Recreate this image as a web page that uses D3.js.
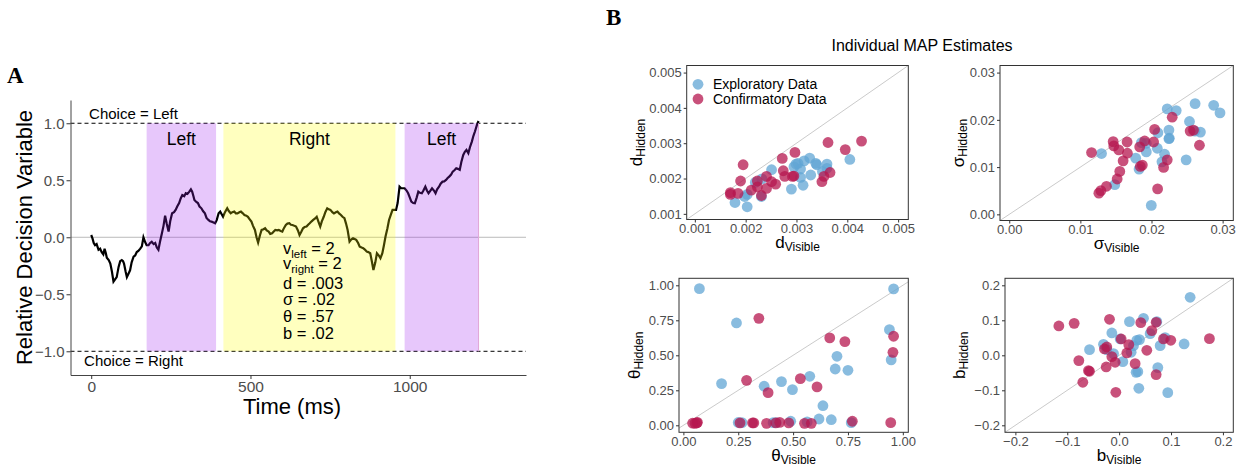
<!DOCTYPE html>
<html>
<head>
<meta charset="utf-8">
<script src="https://cdn.jsdelivr.net/npm/d3@7"></script>
<style>
  body { margin: 0; background: #fff; }
  svg { font-family: "Liberation Sans", Arial, sans-serif; }
</style>
</head>
<body>
<div class="wrapper"></div>
<script>
width = 1244;
height = 467;

/* ---------- Data: panel A (one simulated trial) ---------- */
traceTime = [0, 4, 8, 12, 17, 23, 28, 33, 38, 42, 46, 49, 55, 60, 65, 70, 75, 80, 86, 91,
  96, 100, 103, 108, 112, 117, 122, 127, 133, 138, 143, 148, 154, 159, 164, 169, 174, 180, 185, 190,
  196, 201, 206, 211, 216, 222, 227, 232, 237, 243, 248, 254, 260, 265, 270, 276, 281, 286, 292, 297,
  302, 308, 313, 317, 321, 324, 330, 335, 340, 346, 351, 357, 362, 368, 373, 378, 384, 389, 394, 400,
  405, 410, 414, 420, 427, 432, 438, 443, 449, 454, 459, 465, 470, 476, 481, 487, 492, 497, 503, 508,
  514, 519, 524, 530, 535, 541, 546, 551, 557, 562, 568, 573, 578, 584, 589, 595, 600, 605, 611, 616,
  622, 627, 632, 638, 643, 649, 654, 660, 665, 670, 676, 681, 686, 692, 697, 703, 708, 713, 719, 724,
  730, 735, 741, 746, 751, 757, 762, 768, 773, 778, 784, 789, 795, 800, 805, 811, 816, 822, 827, 832,
  838, 843, 849, 854, 860, 865, 870, 876, 881, 886, 892, 897, 903, 908, 914, 919, 924, 930, 935, 941,
  946, 951, 957, 962, 968, 973, 979, 984, 990, 995, 1000, 1005, 1011, 1016, 1022, 1027, 1032, 1038, 1043, 1049,
  1054, 1059, 1065, 1070, 1076, 1081, 1086, 1092, 1097, 1103, 1108, 1114, 1119, 1124, 1130, 1135, 1141, 1146, 1151, 1157,
  1162, 1168, 1173, 1178, 1184, 1189, 1195, 1200, 1205, 1211, 1216];
traceValue = [0.02, -0.01, -0.05, -0.07, -0.06, -0.11, -0.10, -0.13, -0.15, -0.10, -0.14, -0.18, -0.20, -0.23, -0.30, -0.39, -0.37, -0.35, -0.26, -0.21,
  -0.20, -0.21, -0.23, -0.30, -0.35, -0.32, -0.29, -0.22, -0.17, -0.16, -0.13, -0.12, -0.10, -0.08, 0.00, -0.04, -0.07, -0.07, -0.05, -0.04,
  -0.06, -0.05, -0.09, -0.11, -0.04, 0.035, 0.10, 0.19, 0.12, 0.05, 0.14, 0.21, 0.22, 0.24, 0.27, 0.30, 0.34, 0.37, 0.36, 0.386,
  0.38, 0.40, 0.42, 0.40, 0.36, 0.327, 0.31, 0.30, 0.27, 0.254, 0.23, 0.21, 0.17, 0.152, 0.14, 0.137, 0.13, 0.123, 0.15, 0.21,
  0.225, 0.20, 0.18, 0.22, 0.254, 0.23, 0.21, 0.22, 0.225, 0.21, 0.21, 0.22, 0.225, 0.21, 0.196, 0.19, 0.18, 0.16, 0.137, 0.10,
  0.064, 0.00, -0.047, 0.02, 0.064, 0.07, 0.079, 0.06, 0.05, 0.03, 0.035, 0.05, 0.064, 0.06, 0.064, 0.055, 0.05, 0.08, 0.108, 0.12,
  0.123, 0.11, 0.108, 0.10, 0.094, 0.06, 0.02, 0.05, 0.079, 0.09, 0.094, 0.11, 0.123, 0.14, 0.152, 0.165, 0.18, 0.14, 0.094, 0.14,
  0.18, 0.22, 0.254, 0.245, 0.24, 0.22, 0.21, 0.22, 0.225, 0.21, 0.196, 0.18, 0.167, 0.12, 0.064, -0.038, -0.02, -0.009, -0.015, -0.023,
  -0.05, -0.082, -0.09, -0.096, -0.11, -0.126, -0.13, -0.14, -0.21, -0.287, -0.22, -0.14, -0.16, -0.184, -0.14, -0.07, 0.006, 0.08, 0.152, 0.20,
  0.24, 0.24, 0.24, 0.30, 0.444, 0.43, 0.43, 0.43, 0.41, 0.386, 0.35, 0.313, 0.30, 0.298, 0.35, 0.40, 0.39, 0.386, 0.41, 0.444,
  0.41, 0.386, 0.41, 0.43, 0.41, 0.386, 0.42, 0.444, 0.47, 0.488, 0.49, 0.503, 0.52, 0.532, 0.55, 0.576, 0.59, 0.605, 0.60, 0.591,
  0.66, 0.722, 0.75, 0.766, 0.737, 0.79, 0.839, 0.89, 0.93, 0.985, 1.02];

fixStart = [174, 415, 984];
fixEnd = [392, 955, 1216];
fixSide = ["Left", "Right", "Left"];

xTicksA = [0, 500, 1000];
yTicksA = [-1, -0.5, 0, 0.5, 1];

paramSymbols = ["v", "v", "d", "\u03c3", "\u03b8", "b"];
paramSubs = ["left", "right", "", "", "", ""];
paramValues = ["2", "2", ".003", ".02", ".57", ".02"];

/* ---------- Data: panel B (visible, hidden) ---------- */
dExploratory = [[0.00179, 0.00132], [0.00203, 0.0012], [0.00198, 0.00149], [0.00203, 0.00155], [0.00219, 0.00189],
  [0.00232, 0.00199], [0.00251, 0.00225], [0.00231, 0.00149], [0.0029, 0.0017], [0.00295, 0.00233], [0.00303, 0.00243],
  [0.00308, 0.00203], [0.00313, 0.00181], [0.00308, 0.00227], [0.00315, 0.0025], [0.00326, 0.00258], [0.00328, 0.0021],
  [0.00338, 0.00243], [0.0034, 0.00239], [0.00351, 0.0022], [0.0036, 0.00241], [0.0036, 0.00229], [0.00405, 0.00254],
  [0.00299, 0.00241]];
dConfirmatory = [[0.0017, 0.0016], [0.0017, 0.00155], [0.00185, 0.00158], [0.0019, 0.00193], [0.00195, 0.00239],
  [0.00211, 0.00167], [0.00223, 0.00193], [0.00223, 0.00176], [0.00231, 0.00152], [0.00241, 0.00206], [0.00241, 0.00172],
  [0.00251, 0.00191], [0.00259, 0.00184], [0.00272, 0.00257], [0.00274, 0.00222], [0.00277, 0.00206], [0.00295, 0.00207],
  [0.00297, 0.00274], [0.0035, 0.00191], [0.00354, 0.00206], [0.00362, 0.00302], [0.00366, 0.00217], [0.00396, 0.00282],
  [0.00428, 0.00306], [0.00292, 0.00206]];

sigmaExploratory = [[0.01297, 0.01287], [0.01484, 0.00629], [0.01778, 0.01189], [0.01825, 0.00958], [0.01858, 0.01517],
  [0.01927, 0.01503], [0.01927, 0.01322], [0.0209, 0.01727], [0.02081, 0.01399], [0.01997, 0.00189], [0.02184, 0.01273],
  [0.02147, 0.01112], [0.02221, 0.02231], [0.02245, 0.01783], [0.02245, 0.01601], [0.02347, 0.02196], [0.02487, 0.01154],
  [0.02534, 0.01965], [0.02613, 0.02343], [0.02688, 0.01741], [0.02874, 0.02308], [0.02963, 0.02147], [0.0225, 0.0161],
  [0.0261, 0.0176]];
sigmaConfirmatory = [[0.01157, 0.01308], [0.0126, 0.00448], [0.01288, 0.00503], [0.01367, 0.00594], [0.01461, 0.01538],
  [0.0147, 0.01448], [0.0154, 0.01364], [0.01517, 0.00748], [0.01554, 0.00909], [0.01601, 0.01133], [0.01657, 0.01531],
  [0.01661, 0.01294], [0.01834, 0.01427], [0.01843, 0.01014], [0.01871, 0.01042], [0.01904, 0.01552], [0.0203, 0.01531],
  [0.02044, 0.01797], [0.02086, 0.00538], [0.0217, 0.00993], [0.02221, 0.01154], [0.02291, 0.02056], [0.02543, 0.01762],
  [0.0259, 0.01783], [0.02674, 0.01462]];

thetaExploratory = [[0.073, 0.976], [0.242, 0.731], [0.174, 0.298], [0.368, 0.279], [0.447, 0.312], [0.497, 0.255],
  [0.576, 0.35], [0.636, 0.14], [0.618, 0.045], [0.674, 0.04], [0.692, 0.402], [0.7, 0.493], [0.75, 0.393], [0.765, 0.019],
  [0.939, 0.683], [0.947, 0.467], [0.958, 0.974], [0.267, 0.019], [0.409, 0.019], [0.423, 0.019], [0.489, 0.029],
  [0.564, 0.024], [0.25, 0.02]];
thetaConfirmatory = [[0.053, 0.014], [0.061, 0.017], [0.064, 0.021], [0.258, 0.017], [0.315, 0.017], [0.321, 0.017],
  [0.288, 0.321], [0.344, 0.764], [0.386, 0.233], [0.379, 0.014], [0.421, 0.017], [0.439, 0.021], [0.48, 0.017],
  [0.533, 0.333], [0.552, 0.014], [0.583, 0.014], [0.609, 0.274], [0.667, 0.624], [0.736, 0.598], [0.77, 0.029],
  [0.945, 0.019], [0.955, 0.521], [0.958, 0.636], [0.042, 0.015]];

bExploratory = [[-0.0571, 0.0162], [-0.0302, 0.0314], [-0.0238, 0.0162], [-0.0141, 0.0638], [-0.0109, 0.0048],
  [0.0019, 0.0467], [0.0071, -0.0181], [0.0199, 0.0962], [0.0231, 0.0086], [0.0276, 0.0276], [0.0327, -0.0486],
  [0.036, -0.0467], [0.034, 0.0429], [0.0392, 0.0448], [0.0379, -0.0943], [0.0469, 0.1057], [0.0597, 0.0619],
  [0.0726, 0.0962], [0.0745, -0.0352], [0.079, 0.0276], [0.0886, 0.0505], [0.0937, -0.1067], [0.1252, 0.0324],
  [0.1368, 0.1657]];
bConfirmatory = [[-0.1162, 0.0838], [-0.0867, 0.0914], [-0.0777, -0.0152], [-0.07, -0.0771], [-0.0591, -0.0438],
  [-0.0571, -0.0457], [-0.025, -0.0333], [-0.0238, 0.0238], [-0.0283, 0.0181], [-0.0186, 0.1029], [-0.0141, -0.0038],
  [-0.0077, -0.02], [-0.0064, -0.1057], [0.0039, 0.0467], [0.0148, 0.0067], [0.0186, 0.0305], [0.0308, -0.0238],
  [0.0417, 0.0933], [0.0533, 0.0143], [0.0629, 0.0705], [0.0713, 0.0943], [0.0713, -0.0552], [0.0854, 0.0467],
  [0.0995, 0.0429], [0.174, 0.0476]];

seriesNames = ["Exploratory Data", "Confirmatory Data"];
seriesColors = ["#62a6d4", "#b5174f"];

/* ---------- Canvas ---------- */
svg = d3.select(".wrapper")
  .append("svg")
  .attr("width", width)
  .attr("height", height);

function styleAxis(g, size) {
  g.attr("font-family", "Liberation Sans, Arial, sans-serif").attr("font-size", size);
  g.selectAll(".tick line").attr("stroke", "#333");
  g.selectAll(".tick text").attr("fill", "#4d4d4d");
}

/* ---------- Panel A ---------- */
function drawPanelA() {
  var xA = d3.scaleLinear().domain([-65, 1365]).range([70.5, 526]);
  var yA = d3.scaleLinear().domain([-1.208, 1.204]).range([375, 100]);
  var g = svg.append("g").classed("panelA", true);

  // zero reference line
  g.append("line")
    .attr("x1", 70.5).attr("x2", 526)
    .attr("y1", yA(0)).attr("y2", yA(0))
    .attr("stroke", "#a8a8a8").attr("stroke-width", 0.8);

  // choice bounds
  [1, -1].forEach(function (b) {
    g.append("line")
      .attr("x1", 70.5).attr("x2", 526)
      .attr("y1", yA(b)).attr("y2", yA(b))
      .attr("stroke", "#000").attr("stroke-width", 1)
      .attr("stroke-dasharray", "4,3");
  });

  // decision variable trace
  var pts = traceTime.map(function (t, i) { return [t, traceValue[i]]; });
  g.append("path")
    .datum(pts)
    .attr("d", d3.line().x(function (d) { return xA(d[0]); }).y(function (d) { return yA(d[1]); }))
    .attr("fill", "none")
    .attr("stroke", "#000")
    .attr("stroke-width", 2.2)
    .attr("stroke-linejoin", "miter");

  // fixation windows (drawn over the trace, translucent)
  fixStart.forEach(function (s, i) {
    g.append("rect")
      .attr("x", xA(s)).attr("width", xA(fixEnd[i]) - xA(s))
      .attr("y", yA(1)).attr("height", yA(-1) - yA(1))
      .attr("fill", fixSide[i] === "Left" ? "#A020F0" : "#FFFF00")
      .attr("fill-opacity", 0.25);
    g.append("text")
      .attr("x", xA((s + fixEnd[i]) / 2)).attr("y", yA(0.81))
      .attr("text-anchor", "middle")
      .attr("font-size", 17.5)
      .text(fixSide[i]);
  });
  g.append("line")
    .attr("x1", xA(fixEnd[2])).attr("x2", xA(fixEnd[2]))
    .attr("y1", yA(1)).attr("y2", yA(-1))
    .attr("stroke", "#e0a8d8").attr("stroke-width", 1);

  g.append("text").attr("x", 133.5).attr("y", 119).attr("text-anchor", "middle")
    .attr("font-size", 15).text("Choice = Left");
  g.append("text").attr("x", 133.5).attr("y", 366).attr("text-anchor", "middle")
    .attr("font-size", 15).text("Choice = Right");

  // parameter block
  var baselines = [254, 269, 289, 305, 322, 339];
  paramSymbols.forEach(function (sym, i) {
    var t = g.append("text").attr("x", 283).attr("y", baselines[i]).attr("font-size", 16.5);
    t.append("tspan").text(sym);
    if (paramSubs[i]) {
      t.append("tspan").attr("font-size", 11.5).attr("dy", 3.5).text(paramSubs[i]);
      t.append("tspan").attr("dy", -3.5).text(" = " + paramValues[i]);
    } else {
      t.append("tspan").text(" = " + paramValues[i]);
    }
  });

  // axes
  var ay = g.append("g").attr("transform", "translate(70.5,0)")
    .call(d3.axisLeft(yA).tickValues(yTicksA).tickFormat(d3.format(".1f"))
      .tickSize(4).tickPadding(2).tickSizeOuter(0));
  styleAxis(ay, 15);
  ay.select(".domain").attr("stroke", "#444");

  var ax = g.append("g").attr("transform", "translate(0,375)")
    .call(d3.axisBottom(xA).tickValues(xTicksA).tickFormat(d3.format("d"))
      .tickSize(4).tickPadding(1.5).tickSizeOuter(0));
  styleAxis(ax, 15.5);
  ax.select(".domain").attr("stroke", "#444");

  g.append("text").attr("x", 292).attr("y", 414).attr("text-anchor", "middle")
    .attr("font-size", 22).text("Time (ms)");
  g.append("text").attr("transform", "translate(32,237.5) rotate(-90)")
    .attr("text-anchor", "middle").attr("font-size", 22).text("Relative Decision Variable");

  svg.append("text").attr("x", 7).attr("y", 83)
    .attr("font-family", "Liberation Serif, serif").attr("font-weight", "bold")
    .attr("font-size", 23).text("A");
}

/* ---------- Panel B ---------- */
function subLabel(g, x, y, main, sub, rotated) {
  var t = g.append("text")
    .attr("transform", "translate(" + x + "," + y + ")" + (rotated ? " rotate(-90)" : ""))
    .attr("text-anchor", "middle");
  t.append("tspan").attr("font-size", 17).text(main);
  t.append("tspan").attr("font-size", 12).attr("dy", 3).text(sub);
}

function drawScatter(p) {
  var x = d3.scaleLinear().domain(p.xDomain).range([p.left, p.right]);
  var y = d3.scaleLinear().domain(p.yDomain).range([p.bottom, p.top]);
  var g = svg.append("g").classed("scatter", true);

  // identity line
  var lo = Math.max(p.xDomain[0], p.yDomain[0]);
  var hi = Math.min(p.xDomain[1], p.yDomain[1]);
  g.append("line")
    .attr("x1", x(lo)).attr("y1", y(lo)).attr("x2", x(hi)).attr("y2", y(hi))
    .attr("stroke", "#c4c4c4").attr("stroke-width", 0.9);

  [p.exp, p.conf].forEach(function (set, k) {
    g.selectAll(".pt" + k)
      .data(set)
      .enter().append("circle")
      .attr("cx", function (d) { return x(d[0]); })
      .attr("cy", function (d) { return y(d[1]); })
      .attr("r", 5.4)
      .attr("fill", seriesColors[k])
      .attr("fill-opacity", 0.75);
  });

  g.append("rect")
    .attr("x", p.left).attr("y", p.top)
    .attr("width", p.right - p.left).attr("height", p.bottom - p.top)
    .attr("fill", "none").attr("stroke", "#333").attr("stroke-width", 1);

  var fmt = d3.format(p.fmt);
  var axB = g.append("g").attr("transform", "translate(0," + p.bottom + ")")
    .call(d3.axisBottom(x).tickValues(p.ticks).tickFormat(fmt).tickSize(3).tickPadding(1.5));
  axB.select(".domain").remove();
  styleAxis(axB, 13);

  var axL = g.append("g").attr("transform", "translate(" + p.left + ",0)")
    .call(d3.axisLeft(y).tickValues(p.ticks).tickFormat(fmt).tickSize(3).tickPadding(2));
  axL.select(".domain").remove();
  styleAxis(axL, 13);

  subLabel(g, (p.left + p.right) / 2, p.bottom + 28.5, p.sym, "Visible", false);
  subLabel(g, p.ylabX, (p.top + p.bottom) / 2, p.sym, "Hidden", true);
  return g;
}

function drawPanelB() {
  svg.append("text").attr("x", 606).attr("y", 25)
    .attr("font-family", "Liberation Serif, serif").attr("font-weight", "bold")
    .attr("font-size", 23).text("B");

  svg.append("text").attr("x", 922).attr("y", 51).attr("text-anchor", "middle")
    .attr("font-size", 16).text("Individual MAP Estimates");

  var g1 = drawScatter({
    left: 686.7, right: 908.3, top: 65.5, bottom: 219.5,
    xDomain: [0.00084, 0.0052], yDomain: [0.00084, 0.0052],
    ticks: [0.001, 0.002, 0.003, 0.004, 0.005], fmt: ".3f",
    exp: dExploratory, conf: dConfirmatory, sym: "d", ylabX: 642
  });
  drawScatter({
    left: 1000, right: 1233.3, top: 65.5, bottom: 220.5,
    xDomain: [-0.0013, 0.0315], yDomain: [-0.0013, 0.0315],
    ticks: [0, 0.01, 0.02, 0.03], fmt: ".2f",
    exp: sigmaExploratory, conf: sigmaConfirmatory, sym: "\u03c3", ylabX: 964
  });
  drawScatter({
    left: 679, right: 908.3, top: 278.3, bottom: 432.3,
    xDomain: [-0.02, 1.025], yDomain: [-0.05, 1.05],
    ticks: [0, 0.25, 0.5, 0.75, 1], fmt: ".2f",
    exp: thetaExploratory, conf: thetaConfirmatory, sym: "\u03b8", ylabX: 640
  });
  drawScatter({
    left: 1005, right: 1233.3, top: 278.3, bottom: 432.3,
    xDomain: [-0.22, 0.22], yDomain: [-0.22, 0.22],
    ticks: [-0.2, -0.1, 0, 0.1, 0.2], fmt: ".1f",
    exp: bExploratory, conf: bConfirmatory, sym: "b", ylabX: 965
  });

  // legend inside first panel
  var lg = g1.append("g").classed("legend", true);
  seriesNames.forEach(function (name, i) {
    lg.append("circle").attr("cx", 698).attr("cy", 84.3 + i * 14.7).attr("r", 5.4)
      .attr("fill", seriesColors[i]).attr("fill-opacity", 0.75);
    lg.append("text").attr("x", 713).attr("y", 89.3 + i * 14.7)
      .attr("font-size", 14).text(name);
  });
}

drawPanelA();
drawPanelB();
</script>
</body>
</html>
